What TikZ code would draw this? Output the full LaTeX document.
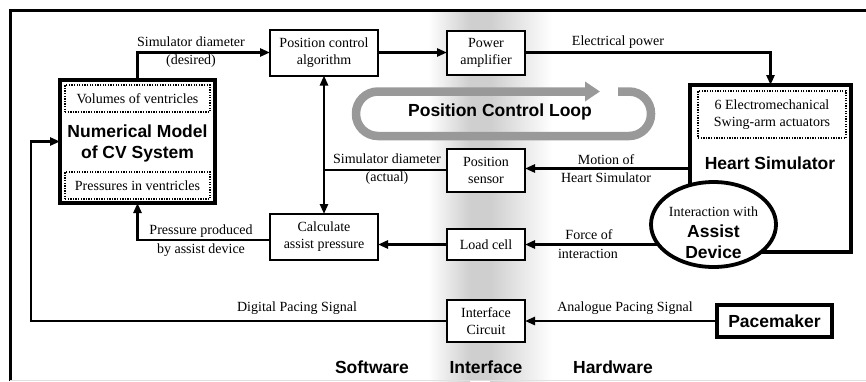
\documentclass[tikz,border=0pt]{standalone}
\usepackage{fontspec}
\setmainfont{Liberation Serif}
\newfontfamily\headfont{Liberation Sans}
\usetikzlibrary{arrows.meta,shapes.geometric,calc}
\pgfdeclarelayer{band}
\pgfdeclarelayer{wires}
\pgfsetlayers{band,wires,main}
\definecolor{loopgray}{gray}{0.6}
\definecolor{bandgray}{gray}{0.81}

\tikzset{
  every node/.style={inner sep=0pt, outer sep=0pt},
  lbl/.style={font=\fontsize{14}{17}\selectfont, align=center},
  boldsans/.style={font=\headfont\bfseries\fontsize{17.5}{21}\selectfont, align=center},
  blk/.style={draw, line width=2pt, fill=white, lbl},
  heavybox/.style={draw, line width=4.5pt, fill=white},
  dotbox/.style={draw, line width=1.3pt, dash pattern=on 1.3pt off 1.3pt, lbl},
  tipshape/.tip={Triangle[length=10pt,width=8pt]},
  conn/.style={line width=2.6pt, -tipshape},
  conn2/.style={line width=2.6pt, tipshape-tipshape},
}

\begin{document}
\begin{tikzpicture}[x=1pt, y=-1pt]
\useasboundingbox (0,0) rectangle (866,381);

% shaded strip marking the interface region
\begin{pgfonlayer}{band}
  \shade[left color=white, right color=bandgray] (428,10) rectangle (470,381);
  \fill[bandgray] (470,10) rectangle (490,381);
  \shade[left color=bandgray, right color=white] (490,10) rectangle (552,381);
\end{pgfonlayer}

% frame
\draw[line width=3pt] (10,381) -- (10,10) -- (866,10);
\draw[black!12, line width=1pt] (10,380.5) -- (866,380.5);

% software blocks
\node[heavybox, minimum width=155pt, minimum height=123pt] (ncv) at (137.5,141.5) {};
\node[boldsans] (ncvtitle) at (137.5,143.5) {Numerical Model\\of CV System};
\node[dotbox, minimum width=145pt, minimum height=27pt] (vol) at (137.5,98.5) {Volumes of ventricles};
\node[dotbox, minimum width=145pt, minimum height=27pt] (pres) at (137.5,185.5) {Pressures in ventricles};

\node[blk, minimum width=108pt, minimum height=46pt] (pca) at (324,52.5) {Position control\\algorithm};
\node[blk, minimum width=108pt, minimum height=46pt] (calc) at (324,237) {Calculate\\assist pressure};

% interface blocks
\node[blk, minimum width=78pt, minimum height=44pt] (pamp) at (486,52.5) {Power\\amplifier};
\node[blk, minimum width=78pt, minimum height=43pt] (psens) at (486,170) {Position\\sensor};
\node[blk, minimum width=78pt, minimum height=31pt] (lc) at (486,244.5) {Load cell};
\node[blk, minimum width=78pt, minimum height=42pt] (ic) at (486,321) {Interface\\Circuit};

% hardware blocks
\node[heavybox, minimum width=161pt, minimum height=167pt] (hs) at (770.5,168.5) {};
\node[dotbox, minimum width=148pt, minimum height=47pt] (act) at (772,114.5) {6 Electromechanical\\Swing-arm actuators};
\node[boldsans] (hstitle) at (770,163) {Heart Simulator};
\node[ellipse, draw, line width=3.8pt, fill=white, minimum width=125pt, minimum height=85pt] (ell) at (713.5,224.5) {};
\node[lbl] (elltop) at (713.5,212) {Interaction with};
\node[boldsans] (ellmain) at (713.5,242) {Assist\\Device};
\node[heavybox, boldsans, minimum width=115pt, minimum height=32pt] (pm) at (774.5,321) {Pacemaker};

\coordinate (pacecorner) at (31,321);

% connectors
\begin{pgfonlayer}{wires}
  \draw[conn] (ncv.north) |- (pca.west);
  \draw[conn] (pca.east) -- (pamp.west);
  \draw[conn] (pamp.east) -| (hs.north);
  \draw[conn] (hs.west) -- (hs.west -| psens.east);
  \draw[line width=2.6pt] (psens.west) -- (psens.west -| pca.south);
  \draw[conn2] (pca.south) -- (calc.north);
  \draw[conn] (ell.center |- lc.east) -- (lc.east);
  \draw[conn] (lc.west) -- (lc.west -| calc.east);
  \draw[conn] ([yshift=-3pt]calc.west) -| (ncv.south);
  \draw[conn] (pm.west) -- (ic.east);
  \draw[conn] (ic.west) -- (pacecorner) |- (ncv.west);
\end{pgfonlayer}

% position control loop
\draw[loopgray, line width=8.5pt, rounded corners=22pt, -{Triangle[length=15pt,width=19pt]}]
  (618,91.5) -- (651,91.5) -- (651,136) -- (356,136) -- (356,91.5) -- (600,91.5);
\node[boldsans] (looptitle) at (500,112) {Position Control Loop};

% signal labels
\node[lbl] (l1a) at (191,42) {Simulator diameter};
\node[lbl] (l1b) at (191,61) {(desired)};
\node[lbl] (l2) at (618,42) {Electrical power};
\node[lbl] (l3a) at (387,159) {Simulator diameter};
\node[lbl] (l3b) at (387,178) {(actual)};
\node[lbl] (l4a) at (606,160) {Motion of};
\node[lbl] (l4b) at (606,178) {Heart Simulator};
\node[lbl] (l5a) at (589,235) {Force of};
\node[lbl] (l5b) at (588,254) {interaction};
\node[lbl] (l6a) at (201,231) {Pressure produced};
\node[lbl] (l6b) at (201,250) {by assist device};
\node[lbl] (l7) at (297,308) {Digital Pacing Signal};
\node[lbl] (l8) at (625,308) {Analogue Pacing Signal};

% domain captions
\node[boldsans] (capsw) at (372,367) {Software};
\node[boldsans] (capif) at (486,367) {Interface};
\node[boldsans] (caphw) at (613,367) {Hardware};
\end{tikzpicture}
\end{document}
